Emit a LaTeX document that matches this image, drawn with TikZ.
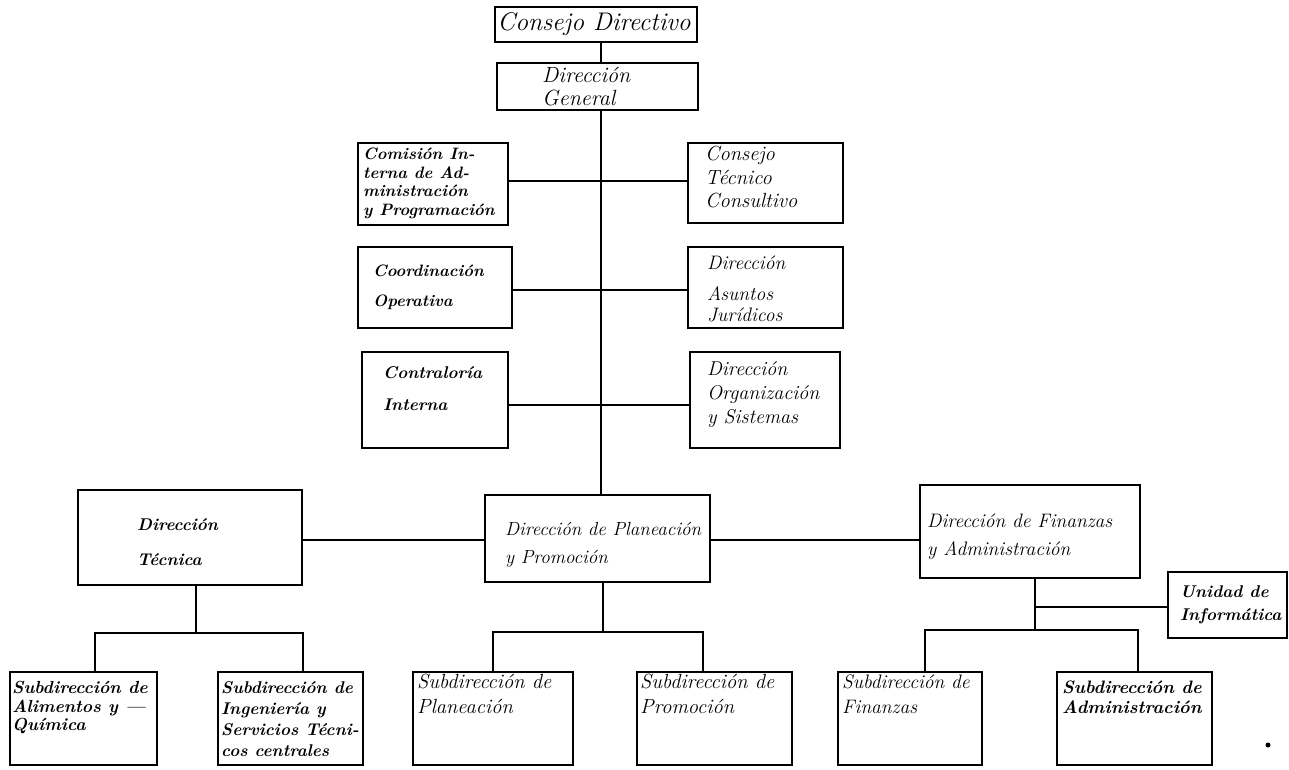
\documentclass[tikz,border=0pt]{standalone}
\usepackage{fontspec}
\newcommand{\hw}[2]{\fontsize{#1}{#2}\selectfont\itshape}
\newcommand{\hwb}[2]{\fontsize{#1}{#2}\selectfont\bfseries\itshape}
\newcommand{\bx}[5]{\node[boxnode, minimum width={(#4-#2)*1pt}, minimum height={(#5-#3)*1pt}] (#1) at ({(#2+#4)/2},{(#3+#5)/2}) {};}
\tikzset{
  boxnode/.style={draw, line width=2.8pt, inner sep=0pt, outer sep=0pt, rectangle},
  lbl/.style={anchor=north west, align=left, inner sep=0pt},
  conn/.style={line width=2.2pt},
}
\begin{document}
\begin{tikzpicture}[x=1pt,y=-1pt]
\useasboundingbox (0,0) rectangle (1289,769);
% boxes
\bx{cd}{495}{7}{697}{42}
\bx{dg}{497}{63}{698}{110}
\bx{cia}{358}{143}{508}{225}
\bx{ctc}{688}{143}{843}{223}
\bx{co}{358}{247}{512}{328}
\bx{daj}{688}{247}{843}{328}
\bx{ci}{362}{352}{508}{448}
\bx{dos}{690}{352}{840}{448}
\bx{dt}{78}{490}{302}{585}
\bx{dpp}{485}{495}{710}{582}
\bx{dfa}{920}{485}{1140}{578}
\bx{ui}{1168}{572}{1287}{638}
\bx{sa}{10}{672}{157}{765}
\bx{si}{218}{672}{363}{765}
\bx{spl}{413}{672}{573}{765}
\bx{spr}{637}{672}{792}{765}
\bx{sf}{838}{672}{982}{765}
\bx{sad}{1057}{672}{1212}{765}
% texts
\node[inner sep=0pt, font=\hw{25.5}{26}] (cdt) at (594,24) {Consejo Directivo};
\node[lbl, font=\hw{22}{23}] (dgt) at (542,67) {Dirección\\General};
\node[lbl, font=\hwb{16.5}{18.5}] (ciat) at (363,148) {Comisión In-\\terna de Ad-\\ministración\\y Programación};
\node[lbl, font=\hw{20.5}{23.5}] (ctct) at (705,146) {Consejo\\Técnico\\Consultivo};
\node[lbl, font=\hwb{16.5}{30}] (cot) at (373,265) {Coordinación\\Operativa};
\node[lbl, font=\hw{19.5}{21}] (dajt) at (707,256) {Dirección\\[10pt]Asuntos\\Jurídicos};
\node[lbl, font=\hwb{17}{32}] (cit) at (383,366) {Contraloría\\Interna};
\node[lbl, font=\hw{20}{24}] (dost) at (707,361) {Dirección\\Organización\\y Sistemas};
\node[lbl, font=\hwb{17}{35}] (dtt) at (137,518) {Dirección\\Técnica};
\node[lbl, font=\hw{19}{28}] (dppt) at (505,522) {Dirección de Planeación\\y Promoción};
\node[lbl, font=\hw{19.5}{28}] (dfat) at (927,514) {Dirección de Finanzas\\y Administración};
\node[lbl, font=\hwb{17}{23}] (uit) at (1180,585) {Unidad de\\Informática};
\node[lbl, font=\hwb{17.5}{18.5}] (sat) at (12,681) {Subdirección de\\Alimentos y ---\\Química};
\node[lbl, font=\hwb{17}{21}] (sit) at (221,681) {Subdirección de\\Ingeniería y\\Servicios Técni-\\cos centrales};
\node[lbl, font=\hw{20.5}{25}] (splt) at (417,674) {Subdirección de\\Planeación};
\node[lbl, font=\hw{20.5}{25}] (sprt) at (640,674) {Subdirección de\\Promoción};
\node[lbl, font=\hw{19.5}{25}] (sft) at (842,675) {Subdirección de\\Finanzas};
\node[lbl, font=\hwb{18}{20}] (sadt) at (1062,681) {Subdirección de\\Administración};
% spine coordinates
\coordinate (sp) at (601,0);
\coordinate (r1) at (0,181);
\coordinate (r2) at (0,290);
\coordinate (r3) at (0,405);
\coordinate (r4) at (0,540);
\coordinate (j1) at (196,633);
\coordinate (a1) at (95,633);
\coordinate (a2) at (303,633);
\coordinate (j2) at (603,632);
\coordinate (b1) at (493,632);
\coordinate (b2) at (703,632);
\coordinate (j3) at (1035,630);
\coordinate (c1) at (925,630);
\coordinate (c2) at (1138,630);
\coordinate (u1) at (1035,607);
% connectors
\draw[conn] (cd.south -| sp) -- (dg.north -| sp);
\draw[conn] (dg.south -| sp) -- (dpp.north -| sp);
\draw[conn] (cia.east |- r1) -- (ctc.west |- r1);
\draw[conn] (co.east |- r2) -- (daj.west |- r2);
\draw[conn] (ci.east |- r3) -- (dos.west |- r3);
\draw[conn] (dt.east |- r4) -- (dpp.west |- r4);
\draw[conn] (dpp.east |- r4) -- (dfa.west |- r4);
\draw[conn] (dt.south -| j1) -- (j1);
\draw[conn] (sa.north -| a1) -- (a1) -- (a2) -- (si.north -| a2);
\draw[conn] (dpp.south -| j2) -- (j2);
\draw[conn] (spl.north -| b1) -- (b1) -- (b2) -- (spr.north -| b2);
\draw[conn] (dfa.south -| j3) -- (j3);
\draw[conn] (sf.north -| c1) -- (c1) -- (c2) -- (sad.north -| c2);
\draw[conn] (u1) -- (ui.west |- u1);
\fill (1268,745) circle (2.5);
\end{tikzpicture}
\end{document}
